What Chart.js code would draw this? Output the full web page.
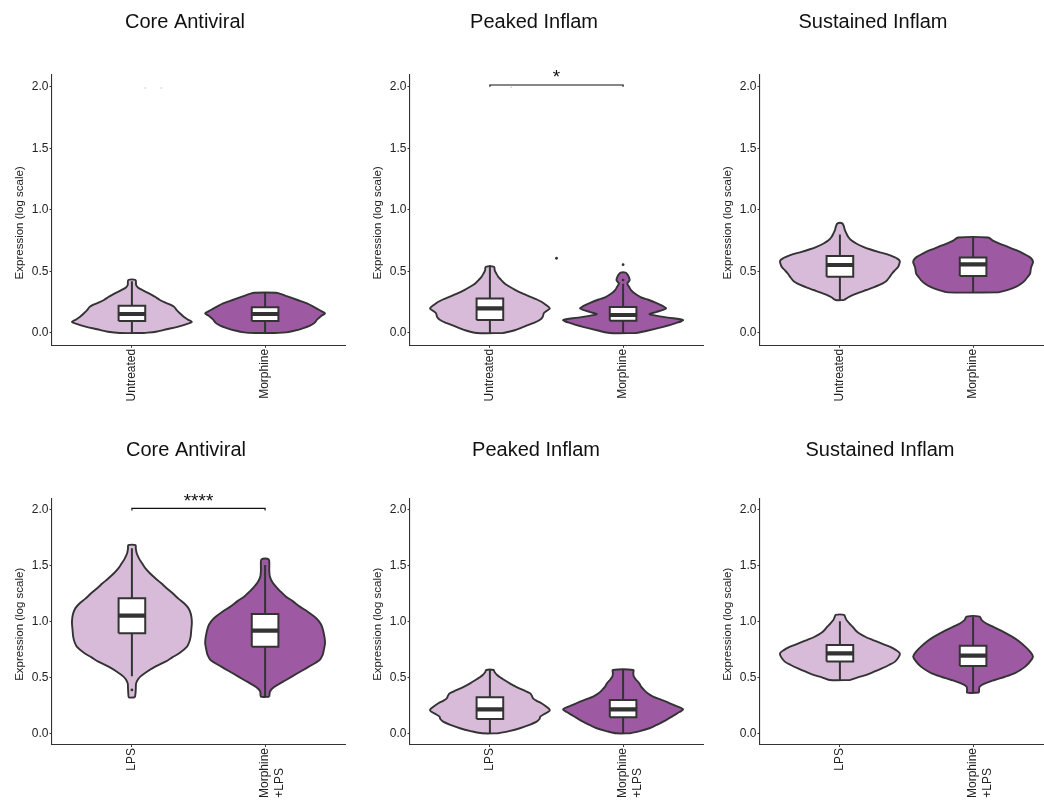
<!DOCTYPE html>
<html>
<head>
<meta charset="utf-8">
<script src="https://cdn.jsdelivr.net/npm/chart.js@4.4.0/dist/chart.umd.min.js"></script>
<style>
  html, body { margin: 0; padding: 0; background: #fff; overflow: hidden; }
  #wrap { position: relative; width: 1044px; height: 806px; overflow: hidden; }
  #wrap canvas { position: absolute; }
</style>
</head>
<body>
<div id="wrap"></div>
<script>
// labels
const panelTitles = ['Core Antiviral', 'Peaked Inflam', 'Sustained Inflam'];
const topGroups = ['Untreated', 'Morphine'];
const bottomGroups = ['LPS', ['Morphine', '+LPS']];
const yTicks = [0, 0.5, 1.0, 1.5, 2.0];
const topSig = ['', '*', ''];
const bottomSig = ['****', '', ''];

// violin outlines: [expression, relative density width]
const topCoreUntreated = [[0,0.2],[0.01,0.4],[0.03,0.58],[0.05,0.76],[0.07,0.9],[0.09,1.0],[0.11,0.93],[0.13,0.87],[0.16,0.8],[0.19,0.74],[0.21,0.71],[0.23,0.64],[0.25,0.54],[0.27,0.46],[0.29,0.4],[0.31,0.33],[0.33,0.25],[0.35,0.17],[0.37,0.1],[0.39,0.07],[0.43,0.06]];
const topCoreMorphine = [[0,0.16],[0.005,0.35],[0.02,0.5],[0.04,0.64],[0.06,0.75],[0.08,0.82],[0.11,0.87],[0.14,0.94],[0.16,1.0],[0.18,0.93],[0.21,0.82],[0.24,0.7],[0.27,0.53],[0.3,0.36],[0.32,0.24],[0.327,0.18]];
const topPeakedUntreated = [[0,0.22],[0.02,0.4],[0.05,0.56],[0.08,0.72],[0.105,0.83],[0.13,0.88],[0.16,0.9],[0.18,0.95],[0.2,1.0],[0.23,0.93],[0.254,0.86],[0.275,0.77],[0.295,0.67],[0.32,0.55],[0.35,0.42],[0.375,0.33],[0.4,0.25],[0.43,0.19],[0.456,0.14],[0.48,0.11],[0.51,0.08],[0.537,0.07]];
const topPeakedMorphine = [[0,0.22],[0.02,0.42],[0.05,0.67],[0.08,0.88],[0.105,1.0],[0.125,0.75],[0.145,0.5],[0.154,0.44],[0.17,0.55],[0.19,0.68],[0.2,0.72],[0.22,0.66],[0.245,0.55],[0.27,0.42],[0.289,0.3],[0.322,0.19],[0.35,0.13],[0.376,0.1],[0.4,0.07],[0.415,0.09],[0.43,0.11],[0.45,0.1],[0.47,0.08],[0.49,0.04]];
const topSustUntreated = [[0.268,0.07],[0.29,0.14],[0.309,0.22],[0.33,0.33],[0.349,0.44],[0.37,0.56],[0.39,0.66],[0.41,0.74],[0.43,0.79],[0.455,0.83],[0.483,0.87],[0.51,0.92],[0.536,0.97],[0.56,0.99],[0.583,1.0],[0.6,0.97],[0.618,0.9],[0.64,0.78],[0.658,0.64],[0.68,0.5],[0.7,0.39],[0.725,0.28],[0.753,0.19],[0.78,0.14],[0.807,0.11],[0.84,0.08],[0.86,0.07],[0.89,0.04]];
const topSustMorphine = [[0.33,0.42],[0.35,0.58],[0.376,0.72],[0.4,0.8],[0.43,0.87],[0.455,0.91],[0.483,0.95],[0.51,0.96],[0.536,0.97],[0.56,0.99],[0.578,1.0],[0.6,0.98],[0.618,0.94],[0.645,0.84],[0.672,0.72],[0.7,0.58],[0.726,0.44],[0.75,0.33],[0.775,0.25]];
const botCoreLPS = [[0.321,0.05],[0.357,0.06],[0.4,0.065],[0.446,0.07],[0.48,0.1],[0.506,0.14],[0.55,0.25],[0.595,0.39],[0.64,0.56],[0.68,0.68],[0.714,0.79],[0.774,0.92],[0.82,0.96],[0.863,0.98],[0.92,0.99],[0.982,1.0],[1.03,0.995],[1.071,0.98],[1.12,0.94],[1.161,0.87],[1.2,0.78],[1.25,0.68],[1.3,0.57],[1.339,0.49],[1.38,0.4],[1.429,0.3],[1.47,0.23],[1.518,0.17],[1.56,0.12],[1.607,0.08],[1.65,0.065],[1.68,0.06]];
const botCoreMorphine = [[0.327,0.07],[0.37,0.08],[0.4,0.12],[0.43,0.2],[0.476,0.35],[0.536,0.54],[0.595,0.73],[0.655,0.91],[0.7,0.96],[0.744,0.98],[0.804,1.0],[0.863,0.99],[0.952,0.95],[1.0,0.9],[1.042,0.82],[1.09,0.7],[1.131,0.58],[1.18,0.46],[1.22,0.35],[1.27,0.25],[1.31,0.18],[1.35,0.12],[1.399,0.08],[1.45,0.07],[1.488,0.07],[1.553,0.06]];
const botPeakedLPS = [[0,0.13],[0.02,0.32],[0.045,0.5],[0.075,0.66],[0.104,0.78],[0.13,0.83],[0.149,0.84],[0.17,0.9],[0.19,0.97],[0.208,1.0],[0.23,0.96],[0.268,0.86],[0.29,0.78],[0.312,0.72],[0.335,0.7],[0.357,0.67],[0.385,0.56],[0.417,0.43],[0.446,0.33],[0.476,0.24],[0.5,0.17],[0.52,0.12],[0.545,0.08],[0.565,0.06]];
const botPeakedMorphine = [[0,0.11],[0.02,0.28],[0.045,0.44],[0.075,0.56],[0.104,0.67],[0.135,0.77],[0.164,0.86],[0.19,0.94],[0.214,1.0],[0.24,0.9],[0.268,0.78],[0.3,0.63],[0.327,0.5],[0.357,0.41],[0.387,0.35],[0.417,0.3],[0.446,0.27],[0.476,0.22],[0.506,0.18],[0.535,0.17],[0.565,0.17]];
const botSustLPS = [[0.476,0.17],[0.5,0.3],[0.52,0.43],[0.55,0.57],[0.58,0.7],[0.61,0.82],[0.64,0.92],[0.68,0.98],[0.714,1.0],[0.745,0.93],[0.774,0.83],[0.8,0.7],[0.833,0.55],[0.86,0.43],[0.893,0.32],[0.92,0.26],[0.952,0.21],[0.98,0.16],[1.012,0.11],[1.035,0.09],[1.057,0.07]];
const botSustMorphine = [[0.363,0.1],[0.39,0.1],[0.417,0.11],[0.445,0.2],[0.476,0.36],[0.505,0.53],[0.536,0.69],[0.565,0.79],[0.595,0.87],[0.64,0.95],[0.685,1.0],[0.73,0.95],[0.774,0.87],[0.82,0.77],[0.863,0.65],[0.91,0.49],[0.952,0.33],[0.98,0.22],[1.012,0.14],[1.042,0.11]];

// boxplot stats per group: [lower whisker, q1, median, q3, upper whisker]
const topCoreBoxes = [[0, 0.097, 0.154, 0.222, 0.42], [0, 0.097, 0.154, 0.209, 0.327]];
const topPeakedBoxes = [[0, 0.105, 0.2, 0.28, 0.55], [0, 0.1, 0.146, 0.211, 0.4]];
const topSustBoxes = [[0.268, 0.457, 0.552, 0.625, 0.8], [0.33, 0.462, 0.557, 0.613, 0.775]];
const botCoreBoxes = [[0.51, 0.893, 1.05, 1.205, 1.652], [0.327, 0.773, 0.916, 1.065, 1.503]];
const botPeakedBoxes = [[0, 0.128, 0.214, 0.321, 0.565], [0, 0.143, 0.214, 0.298, 0.565]];
const botSustBoxes = [[0.476, 0.64, 0.714, 0.788, 1.0], [0.363, 0.6, 0.693, 0.782, 1.04]];

// single points [group position, expression]
const topCoreFaint = [[1.10, 1.99], [1.22, 1.99]];
const topPeakedFaint = [[1.16, 1.995]];
const topPeakedOutliers = [[2, 0.43], [2, 0.555], [1.5, 0.607]];
const botCoreOutliers = [[1, 0.387]];

const FONT = '"Liberation Sans", Arial, Helvetica, sans-serif';
const INK = '#333333';
const FILLS = ['#D8BBD8', '#9D5AA2'];
const HALF = 0.45;   // max violin half width in group units
const BOX = 0.1;     // box half width

const measure = document.createElement('canvas').getContext('2d');
measure.font = '12px ' + FONT;

// pad shorter lines so a rotated multi-line label starts flush at the bottom
function padLines(label) {
  if (!Array.isArray(label)) return label;
  const widest = Math.max(...label.map(s => measure.measureText(s).width));
  return label.map(s => {
    let t = s;
    while (measure.measureText(t + ' ').width <= widest + 1) t += ' ';
    return t;
  });
}

function line(points, extra) {
  return Object.assign({
    data: points.map(([x, y]) => ({x, y})),
    showLine: true,
    pointRadius: 0,
    borderColor: INK,
    borderWidth: 2,
    fill: false,
    tension: 0
  }, extra);
}

function violinOutline(profile, c) {
  const right = profile.map(([y, w]) => [c + w * HALF, y]);
  const left = profile.slice().reverse().map(([y, w]) => [c - w * HALF, y]);
  return right.concat(left, [right[0]]);
}

function buildDatasets(violins, boxes, outliers, faint, bracket) {
  const ds = [];
  violins.forEach((profile, i) => {
    const c = i + 1;
    const [lo, q1, med, q3, hi] = boxes[i];
    ds.push(line(violinOutline(profile, c), {
      fill: 'shape', backgroundColor: FILLS[i], tension: 0.3,
      borderWidth: 1.9, borderJoinStyle: 'round', order: 5
    }));
    ds.push(line([[c, lo], [c, hi]], {order: 4}));
    ds.push(line([[c - BOX, q1], [c + BOX, q1], [c + BOX, q3], [c - BOX, q3], [c - BOX, q1]], {
      fill: 'shape', backgroundColor: '#ffffff', borderJoinStyle: 'miter', order: 3
    }));
    ds.push(line([[c - BOX, med], [c + BOX, med]], {borderWidth: 4.2, order: 2}));
  });
  if (outliers.length) {
    ds.push({data: outliers.map(([x, y]) => ({x, y})), pointRadius: 1.4,
      pointBackgroundColor: INK, pointBorderWidth: 0, order: 1});
  }
  if (faint.length) {
    ds.push({data: faint.map(([x, y]) => ({x, y})), pointRadius: 0.8,
      pointBackgroundColor: '#c8c8c8', pointBorderWidth: 0, order: 1});
  }
  if (bracket) {
    ds.push(line([[1, bracket[0]], [1, bracket[1]], [2, bracket[1]], [2, bracket[0]]], {
      borderColor: '#111', borderWidth: 1.2, order: 0
    }));
  }
  return ds;
}

// titles, y axis title and significance stars
const panelLabels = {
  id: 'panelLabels',
  afterDraw(chart, args, o) {
    const {ctx, chartArea, scales} = chart;
    ctx.save();
    ctx.fillStyle = '#111';
    ctx.textAlign = 'center';
    ctx.textBaseline = 'alphabetic';
    ctx.font = '20px ' + FONT;
    ctx.fillText(o.title, o.titleX, o.titleY);

    ctx.save();
    ctx.translate(o.yTitleX, (chartArea.top + chartArea.bottom) / 2 + o.yTitleShift);
    ctx.rotate(-Math.PI / 2);
    ctx.textBaseline = 'middle';
    ctx.font = '11.5px ' + FONT;
    ctx.fillStyle = '#222';
    ctx.fillText('Expression (log scale)', 0, 0);
    ctx.restore();

    if (o.sig) {
      ctx.font = '19px ' + FONT;
      ctx.fillStyle = '#111';
      ctx.fillText(o.sig, scales.x.getPixelForValue(1.5), scales.y.getPixelForValue(o.bracketTop) - 1.5);
    }
    ctx.restore();
  }
};

const rows = [
  {top: 0, padTop: 74.4, xAxisH: 57.7, titleY: 28, yTitleShift: 13, groups: topGroups, sig: topSig,
   bracket: [2.0, 2.014], titleX: [185, 534, 873],
   panels: [
     [[topCoreUntreated, topCoreMorphine], topCoreBoxes, [], topCoreFaint],
     [[topPeakedUntreated, topPeakedMorphine], topPeakedBoxes, topPeakedOutliers, topPeakedFaint],
     [[topSustUntreated, topSustMorphine], topSustBoxes, [], []]
   ]},
  {top: 403, padTop: 95.1, xAxisH: 61.5, titleY: 456, yTitleShift: 3, groups: bottomGroups, sig: bottomSig,
   bracket: [1.99, 2.009], titleX: [186, 536, 880],
   panels: [
     [[botCoreLPS, botCoreMorphine], botCoreBoxes, botCoreOutliers, []],
     [[botPeakedLPS, botPeakedMorphine], botPeakedBoxes, [], []],
     [[botSustLPS, botSustMorphine], botSustBoxes, [], []]
   ]}
];

const axisX = [52, 410, 760];
const Y_AXIS_W = 52;
const CANVAS_W = 350, CANVAS_H = 403;
const wrap = document.getElementById('wrap');

rows.forEach(row => {
  row.panels.forEach(([violins, boxes, outliers, faint], col) => {
    const left = axisX[col] - Y_AXIS_W;
    const canvas = document.createElement('canvas');
    canvas.width = CANVAS_W;
    canvas.height = CANVAS_H;
    canvas.style.left = left + 'px';
    canvas.style.top = row.top + 'px';
    wrap.appendChild(canvas);

    const sig = row.sig[col];
    const groups = row.groups;
    const axisGrid = {drawOnChartArea: false, drawTicks: true, tickLength: 2.5, color: INK, tickWidth: 1};
    const axisBorder = {display: true, color: INK, width: 1.1};

    new Chart(canvas, {
      type: 'scatter',
      data: {datasets: buildDatasets(violins, boxes, outliers, faint, sig ? row.bracket : null)},
      plugins: [panelLabels],
      options: {
        responsive: false,
        animation: false,
        events: [],
        layout: {padding: {left: 0, right: 5, top: row.padTop, bottom: 0}},
        plugins: {
          legend: {display: false},
          tooltip: {enabled: false},
          panelLabels: {
            title: panelTitles[col], titleX: row.titleX[col] - left, titleY: row.titleY - row.top,
            yTitleX: 19.5, yTitleShift: row.yTitleShift, sig: sig, bracketTop: row.bracket[1]
          }
        },
        scales: {
          x: {
            type: 'linear', min: 0.4, max: 2.6,
            afterBuildTicks: s => { s.ticks = [{value: 1}, {value: 2}]; },
            afterFit: s => { s.height = row.xAxisH; },
            ticks: {
              callback: v => padLines(groups[Math.round(v) - 1]),
              minRotation: 90, maxRotation: 90, autoSkip: false, padding: 1,
              color: '#222', font: {family: FONT, size: 12}
            },
            grid: axisGrid, border: axisBorder
          },
          y: {
            type: 'linear', min: -0.1, max: 2.1,
            afterBuildTicks: s => { s.ticks = yTicks.map(v => ({value: v})); },
            afterFit: s => { s.width = Y_AXIS_W; },
            ticks: {
              callback: v => v.toFixed(1), padding: 1,
              color: '#222', font: {family: FONT, size: 12}
            },
            grid: axisGrid, border: axisBorder
          }
        }
      }
    });
  });
});
</script>
</body>
</html>
